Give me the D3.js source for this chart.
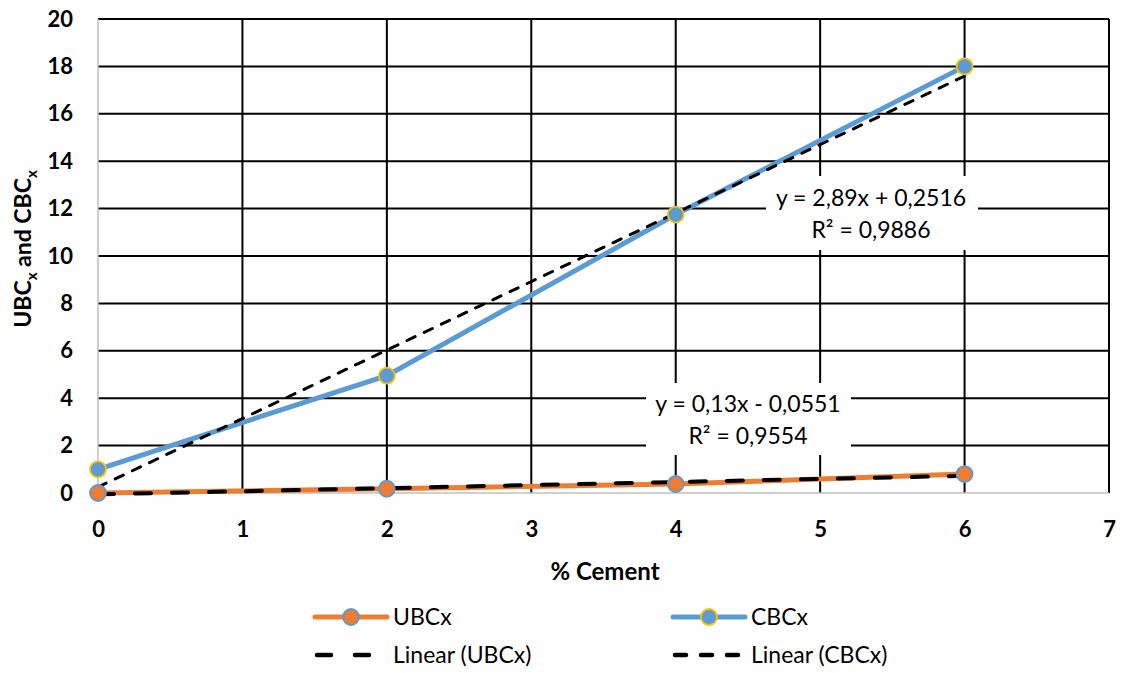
<!DOCTYPE html>
<html><head><meta charset="utf-8">
<script src="https://cdn.jsdelivr.net/npm/d3@7"></script>
<style>body{margin:0;background:#fff}text{font-family:Lato,"Open Sans",sans-serif}</style>
</head><body>
<svg id="c" width="1124" height="673"></svg>
<script>
const xs = [0, 2, 4, 6];
const ubc = [0, 0.18, 0.38, 0.8];
const cbc = [1.0, 4.95, 11.75, 18.0];
const xTicks = [0,1,2,3,4,5,6,7];
const yTicks = [0,2,4,6,8,10,12,14,16,18,20];
const trendUBC = {slope: 0.13, intercept: -0.0551, label1: "y = 0,13x - 0,0551", label2: "R² = 0,9554"};
const trendCBC = {slope: 2.89, intercept: 0.2516, label1: "y = 2,89x + 0,2516", label2: "R² = 0,9886"};

const svg = d3.select("#c");
const x = d3.scaleLinear().domain([0,7]).range([98,1109]);
const y = d3.scaleLinear().domain([0,20]).range([493,19]);

// gridlines
svg.append("g").selectAll("line").data(yTicks.filter(d=>d>0)).join("line")
  .attr("x1",x(0)).attr("x2",x(7)).attr("y1",d=>y(d)).attr("y2",d=>y(d))
  .attr("stroke","#000").attr("stroke-width",2);
svg.append("g").selectAll("line").data(xTicks.filter(d=>d>0)).join("line")
  .attr("x1",d=>x(d)).attr("x2",d=>x(d)).attr("y1",y(0)).attr("y2",y(20))
  .attr("stroke","#000").attr("stroke-width",2);
// axes lines
svg.append("line").attr("x1",x(0)).attr("x2",x(0)).attr("y1",y(0)).attr("y2",y(20)).attr("stroke","#bfbfbf").attr("stroke-width",1.5);
svg.append("line").attr("x1",x(0)).attr("x2",x(7)).attr("y1",y(0)).attr("y2",y(0)).attr("stroke","#bfbfbf").attr("stroke-width",1.5);

// tick labels via axes
const yAxis = svg.append("g").attr("transform",`translate(${x(0)},0)`)
  .call(d3.axisLeft(y).tickValues(yTicks).tickFormat(d3.format("d")).tickSize(0).tickPadding(25));
yAxis.select(".domain").remove();
yAxis.selectAll("text").attr("font-size",22).attr("font-weight","bold").attr("fill","#000");
const xAxis = svg.append("g").attr("transform",`translate(0,${y(0)})`)
  .call(d3.axisBottom(x).tickValues(xTicks).tickFormat(d3.format("d")).tickSize(0).tickPadding(28));
xAxis.select(".domain").remove();
xAxis.selectAll("text").attr("font-size",22).attr("font-weight","bold").attr("fill","#000");

// axis titles
svg.append("text").attr("x",605).attr("y",580).attr("text-anchor","middle")
  .attr("font-size",24).attr("font-weight","bold").text("% Cement");
const yt = svg.append("text").attr("transform","translate(31,249) rotate(-90)")
  .attr("text-anchor","middle").attr("font-size",23).attr("font-weight","bold");
yt.append("tspan").text("UBC");
yt.append("tspan").attr("font-size",15).attr("dy",6).text("x");
yt.append("tspan").attr("dy",-6).text(" and CBC");
yt.append("tspan").attr("font-size",15).attr("dy",6).text("x");

const line = d3.line().x(d=>x(d[0])).y(d=>y(d[1]));
// series lines
svg.append("path").datum(xs.map((d,i)=>[d,ubc[i]])).attr("d",line)
  .attr("fill","none").attr("stroke","#ED7D31").attr("stroke-width",5).attr("stroke-linecap","round");
svg.append("path").datum(xs.map((d,i)=>[d,cbc[i]])).attr("d",line)
  .attr("fill","none").attr("stroke","#5B9BD5").attr("stroke-width",5).attr("stroke-linecap","round");

// trend lines
function trend(t, dash, w){
  const pts = [0,6].map(v=>[v, t.slope*v + t.intercept]);
  svg.append("path").datum(pts).attr("d",line).attr("fill","none")
    .attr("stroke","#000").attr("stroke-width",w).attr("stroke-dasharray",dash).attr("stroke-linecap","round");
}
trend(trendUBC,"16,21",4);
trend(trendCBC,"9,10",3);

// markers
svg.append("g").selectAll("circle").data(xs.map((d,i)=>[d,ubc[i]])).join("circle")
  .attr("cx",d=>x(d[0])).attr("cy",d=>y(d[1])).attr("r",8)
  .attr("fill","#ED7D31").attr("stroke","#5B9BD5").attr("stroke-width",1.8);
svg.append("g").selectAll("circle").data(xs.map((d,i)=>[d,cbc[i]])).join("circle")
  .attr("cx",d=>x(d[0])).attr("cy",d=>y(d[1])).attr("r",8)
  .attr("fill","#5B9BD5").attr("stroke","#FFC000").attr("stroke-width",1.8);

// trend labels
function tlabel(t, cx, cy, bx, by, bw, bh){
  svg.append("rect").attr("x",bx).attr("y",by).attr("width",bw).attr("height",bh).attr("fill","#fff");
  svg.append("text").attr("x",cx).attr("y",cy).attr("text-anchor","middle").attr("font-size",23).text(t.label1);
  svg.append("text").attr("x",cx).attr("y",cy+32).attr("text-anchor","middle").attr("font-size",23).text(t.label2);
}
tlabel(trendUBC, 748, 412, 646, 383, 205, 72);
tlabel(trendCBC, 871, 206, 766, 176, 212, 74);

// legend
const leg = [
  {x:315, y:617, t:"UBCx", c:"#ED7D31", m:"#ED7D31", ms:"#5B9BD5"},
  {x:673, y:617, t:"CBCx", c:"#5B9BD5", m:"#5B9BD5", ms:"#FFC000"},
  {x:315, y:655, t:"Linear (UBCx)", dash:"14,24"},
  {x:673, y:655, t:"Linear (CBCx)", dash:"11,15"}
];
leg.forEach(l=>{
  if(l.dash){
    svg.append("line").attr("x1",l.x+2).attr("x2",l.x+72).attr("y1",l.y).attr("y2",l.y)
      .attr("stroke","#000").attr("stroke-width",4.5).attr("stroke-dasharray",l.dash).attr("stroke-linecap","round");
  } else {
    svg.append("line").attr("x1",l.x).attr("x2",l.x+72).attr("y1",l.y).attr("y2",l.y)
      .attr("stroke",l.c).attr("stroke-width",5).attr("stroke-linecap","round");
    svg.append("circle").attr("cx",l.x+36).attr("cy",l.y).attr("r",8)
      .attr("fill",l.m).attr("stroke",l.ms).attr("stroke-width",1.8);
  }
  svg.append("text").attr("x",l.x+78).attr("y",l.y+8).attr("font-size",23).text(l.t);
});
</script>
</body></html>
